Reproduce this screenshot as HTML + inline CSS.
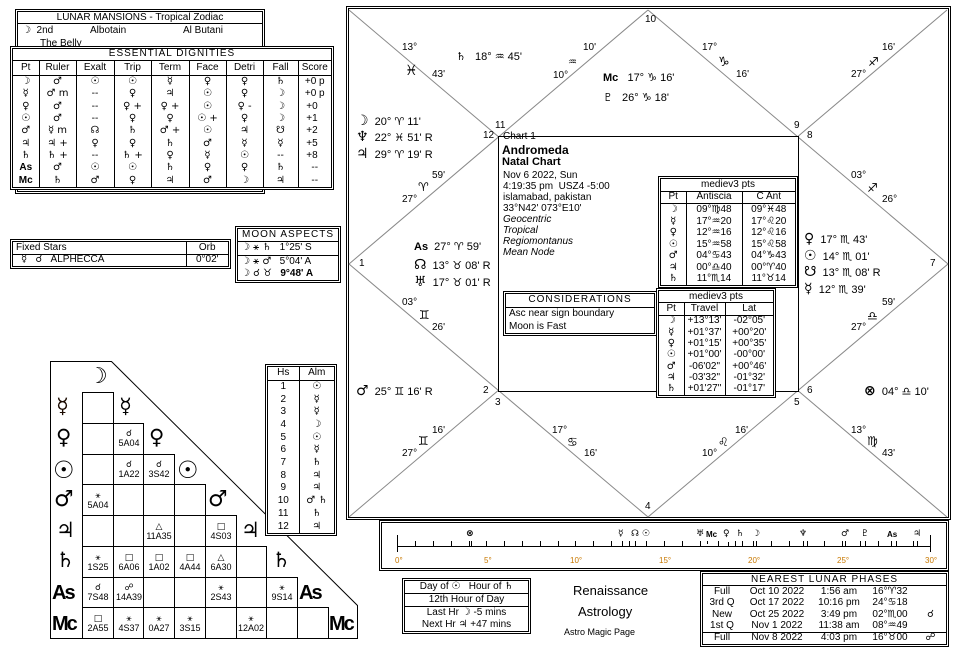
<!DOCTYPE html>
<html><head><meta charset="utf-8"><style>
*{margin:0;padding:0;box-sizing:border-box}
body{width:960px;height:657px;background:#fff;position:relative;overflow:hidden;font-family:"Liberation Sans","DejaVu Sans",sans-serif;font-size:10px;color:#000}
.a{position:absolute;white-space:nowrap;line-height:1}
.box{position:absolute;border:3px double #000;background:#fff}
table{border-collapse:collapse;width:100%}
td{text-align:center;font-size:10px;line-height:1;padding:0;border-left:1px solid #000;white-space:nowrap}
td:first-child{border-left:none}
.g{font-family:"DejaVu Sans",sans-serif}
.bl{border-bottom:1px solid #000}
.c9{font-size:11px}
</style></head><body>

<!-- Lunar mansions -->
<div class="box" style="left:15px;top:9px;width:250px;height:185px">
 <div class="a bl" style="left:0;top:0;width:244px;height:12px;text-align:center;font-size:10px;padding-top:1px">LUNAR MANSIONS - Tropical Zodiac</div>
 <div class="a" style="left:4px;top:14px"><span class="g">☽</span>&nbsp;&nbsp;2nd</div>
 <div class="a" style="left:72px;top:14px">Albotain</div>
 <div class="a" style="left:165px;top:14px">Al Butani</div>
 <div class="a" style="left:22px;top:27px">The Belly</div>
</div>

<!-- Essential dignities -->
<div class="box" style="left:10px;top:46px;width:324px;height:144px">
<table style="height:138px">
<tr class="bl" style="height:11px"><td colspan="9" style="letter-spacing:1px">ESSENTIAL DIGNITIES</td></tr>
<tr class="bl" style="height:15px"><td style="width:26px">Pt</td><td style="width:37px">Ruler</td><td style="width:38px">Exalt</td><td style="width:37px">Trip</td><td style="width:38px">Term</td><td style="width:37px">Face</td><td style="width:37px">Detri</td><td style="width:35px">Fall</td><td>Score</td></tr>
<tr><td class="g"><b>☽</b></td><td class="g">♂</td><td class="g">☉</td><td class="g">☉</td><td class="g">☿</td><td class="g">♀</td><td class="g">♀</td><td class="g">♄</td><td>+0 p</td></tr>
<tr><td class="g"><b>☿</b></td><td class="g">♂ m</td><td>--</td><td class="g">♀</td><td class="g">♃</td><td class="g">☉</td><td class="g">♀</td><td class="g">☽</td><td>+0 p</td></tr>
<tr><td class="g"><b>♀</b></td><td class="g">♂</td><td>--</td><td class="g">♀ +</td><td class="g">♀ +</td><td class="g">☉</td><td class="g">♀ -</td><td class="g">☽</td><td>+0&nbsp;&nbsp;</td></tr>
<tr><td class="g"><b>☉</b></td><td class="g">♂</td><td>--</td><td class="g">♀</td><td class="g">♀</td><td class="g">☉ +</td><td class="g">♀</td><td class="g">☽</td><td>+1&nbsp;&nbsp;</td></tr>
<tr><td class="g"><b>♂</b></td><td class="g">☿ m</td><td class="g">☊</td><td class="g">♄</td><td class="g">♂ +</td><td class="g">☉</td><td class="g">♃</td><td class="g">☋</td><td>+2&nbsp;&nbsp;</td></tr>
<tr><td class="g"><b>♃</b></td><td class="g">♃ +</td><td class="g">♀</td><td class="g">♀</td><td class="g">♄</td><td class="g">♂</td><td class="g">☿</td><td class="g">☿</td><td>+5&nbsp;&nbsp;</td></tr>
<tr><td class="g"><b>♄</b></td><td class="g">♄ +</td><td>--</td><td class="g">♄ +</td><td class="g">♀</td><td class="g">☿</td><td class="g">☉</td><td>--</td><td>+8&nbsp;&nbsp;</td></tr>
<tr><td><b>As</b></td><td class="g">♂</td><td class="g">☉</td><td class="g">☉</td><td class="g">♄</td><td class="g">♀</td><td class="g">♀</td><td class="g">♄</td><td>--</td></tr>
<tr><td><b>Mc</b></td><td class="g">♄</td><td class="g">♂</td><td class="g">♀</td><td class="g">♃</td><td class="g">♂</td><td class="g">☽</td><td class="g">♃</td><td>--</td></tr>
</table></div>

<!-- Fixed stars -->
<div class="box" style="left:10px;top:239px;width:221px;height:30px">
<table style="height:24px"><tr class="bl"><td style="text-align:left;padding-left:3px">Fixed Stars</td><td style="width:42px">Orb</td></tr>
<tr><td style="text-align:left;padding-left:8px"><span class="g">☿</span>&nbsp;&nbsp;&nbsp;<span class="g">☌</span>&nbsp;&nbsp;&nbsp;ALPHECCA</td><td>0°02'</td></tr></table></div>

<!-- Moon aspects -->
<div class="box" style="left:235px;top:226px;width:106px;height:57px">
<table style="height:51px"><tr class="bl"><td style="letter-spacing:1px">MOON ASPECTS</td></tr>
<tr class="bl"><td style="text-align:left;padding-left:3px"><span class="g">☽ ⚹ ♄</span>&nbsp;&nbsp;&nbsp;1°25' S</td></tr>
<tr><td style="text-align:left;padding-left:3px"><span class="g">☽ ⚹ ♂</span>&nbsp;&nbsp;&nbsp;5°04' A</td></tr>
<tr><td style="text-align:left;padding-left:3px"><span class="g">☽ ☌ ♉</span>&nbsp;&nbsp;&nbsp;<b>9°48' A</b></td></tr></table></div>

<!-- Aspect grid -->
<svg class="a" style="left:0;top:0" width="960" height="657">
<polygon points="50.5,361.5 111.5,361.5 357.5,605.5 357.5,638.5 50.5,638.5" fill="#fff" stroke="#000" stroke-width="1"/>
<g stroke="#000" stroke-width="1" fill="none">
<path d="M82.5,392v246M113.5,392v246M143.5,423v215M174.5,454v184M205.5,484v154M236.5,515v123M266.5,546v92M297.5,577v61M328.5,607v31"/>
<path d="M82,392.5h31M82,423.5h61M82,454.5h92M82,484.5h123M82,515.5h154M82,546.5h184M82,577.5h215M82,607.5h246"/>
</g>
<!-- main chart -->
<rect x="346.5" y="6.5" width="604" height="513" fill="none" stroke="#000"/>
<rect x="348.5" y="8.5" width="600" height="509" fill="none" stroke="#000"/>
<g stroke="#888" stroke-width="1">
<line x1="349" y1="10" x2="947" y2="517"/><line x1="947" y1="10" x2="349" y2="517"/>
<line x1="648" y1="10" x2="948" y2="264"/><line x1="948" y1="264" x2="648" y2="517"/>
<line x1="648" y1="517" x2="349" y2="264"/><line x1="349" y1="264" x2="648" y2="10"/>
</g>
<rect x="498.5" y="136.5" width="300" height="255" fill="#fff" stroke="#000"/>
</svg>

<div class="a g" style="left:88px;top:366px;font-size:22px;font-weight:bold">☽</div>
<div class="a g" style="left:56px;top:396px;font-size:21px;font-weight:bold;color:#1a0a00">☿</div>
<div class="a g" style="left:119px;top:396px;font-size:21px;font-weight:bold">☿</div>
<div class="a g" style="left:56px;top:427px;font-size:21px;font-weight:bold">♀</div>
<div class="a g" style="left:149px;top:427px;font-size:21px;font-weight:bold">♀</div>
<div class="a g" style="left:53px;top:458px;font-size:24px;font-weight:bold">☉</div>
<div class="a g" style="left:177px;top:458px;font-size:24px;font-weight:bold">☉</div>
<div class="a g" style="left:54px;top:489px;font-size:22px;font-weight:bold">♂</div>
<div class="a g" style="left:208px;top:489px;font-size:22px;font-weight:bold">♂</div>
<div class="a g" style="left:56px;top:520px;font-size:21px;font-weight:bold">♃</div>
<div class="a g" style="left:241px;top:520px;font-size:21px;font-weight:bold">♃</div>
<div class="a g" style="left:56px;top:550px;font-size:21px;font-weight:bold">♄</div>
<div class="a g" style="left:272px;top:550px;font-size:21px;font-weight:bold">♄</div>
<div class="a" style="left:52px;top:583px;font-size:20px;font-weight:bold;letter-spacing:-2px">As</div>
<div class="a" style="left:299px;top:583px;font-size:20px;font-weight:bold;letter-spacing:-2px">As</div>
<div class="a" style="left:52px;top:614px;font-size:20px;font-weight:bold;letter-spacing:-2px">Mc</div>
<div class="a" style="left:329px;top:614px;font-size:20px;font-weight:bold;letter-spacing:-2px">Mc</div>

<div style="position:absolute;left:0;top:0;font-size:9px">
<div class="a" style="left:114px;top:429px;width:30px;text-align:center"><span class="g">☌</span><br>5A04</div>
<div class="a" style="left:114px;top:460px;width:30px;text-align:center"><span class="g">☌</span><br>1A22</div>
<div class="a" style="left:144px;top:460px;width:30px;text-align:center"><span class="g">☌</span><br>3S42</div>
<div class="a" style="left:83px;top:491px;width:30px;text-align:center"><span class="g">⚹</span><br>5A04</div>
<div class="a" style="left:144px;top:522px;width:30px;text-align:center"><span class="g">△</span><br>11A35</div>
<div class="a" style="left:206px;top:522px;width:30px;text-align:center"><span class="g">□</span><br>4S03</div>
<div class="a" style="left:83px;top:553px;width:30px;text-align:center"><span class="g">⚹</span><br>1S25</div>
<div class="a" style="left:114px;top:553px;width:30px;text-align:center"><span class="g">□</span><br>6A06</div>
<div class="a" style="left:144px;top:553px;width:30px;text-align:center"><span class="g">□</span><br>1A02</div>
<div class="a" style="left:175px;top:553px;width:30px;text-align:center"><span class="g">□</span><br>4A44</div>
<div class="a" style="left:206px;top:553px;width:30px;text-align:center"><span class="g">△</span><br>6A30</div>
<div class="a" style="left:83px;top:583px;width:30px;text-align:center"><span class="g">☌</span><br>7S48</div>
<div class="a" style="left:114px;top:583px;width:30px;text-align:center"><span class="g">☍</span><br>14A39</div>
<div class="a" style="left:206px;top:583px;width:30px;text-align:center"><span class="g">⚹</span><br>2S43</div>
<div class="a" style="left:267px;top:583px;width:30px;text-align:center"><span class="g">⚹</span><br>9S14</div>
<div class="a" style="left:83px;top:614px;width:30px;text-align:center"><span class="g">□</span><br>2A55</div>
<div class="a" style="left:114px;top:614px;width:30px;text-align:center"><span class="g">⚹</span><br>4S37</div>
<div class="a" style="left:144px;top:614px;width:30px;text-align:center"><span class="g">⚹</span><br>0A27</div>
<div class="a" style="left:175px;top:614px;width:30px;text-align:center"><span class="g">⚹</span><br>3S15</div>
<div class="a" style="left:236px;top:614px;width:30px;text-align:center"><span class="g">⚹</span><br>12A02</div>
</div>

<!-- Hs Alm -->
<div class="box" style="left:265px;top:364px;width:72px;height:172px">
<table style="height:166px"><tr class="bl" style="height:13px"><td style="width:31px">Hs</td><td>Alm</td></tr>
<tr><td>1</td><td class="g">☉</td></tr><tr><td>2</td><td class="g">☿</td></tr><tr><td>3</td><td class="g">☿</td></tr><tr><td>4</td><td class="g">☽</td></tr><tr><td>5</td><td class="g">☉</td></tr><tr><td>6</td><td class="g">☿</td></tr><tr><td>7</td><td class="g">♄</td></tr><tr><td>8</td><td class="g">♃</td></tr><tr><td>9</td><td class="g">♃</td></tr><tr><td>10</td><td class="g">♂ ♄</td></tr><tr><td>11</td><td class="g">♄</td></tr><tr><td>12</td><td class="g">♃</td></tr></table></div>

<!-- chart texts -->
<div style="position:absolute;left:0;top:0;font-size:10px">
<div class="a" style="left:402px;top:43px">13°</div><div class="a g" style="left:405px;top:64px;font-size:14px">♓</div><div class="a" style="left:432px;top:70px">43'</div>
<div class="a c9" style="left:456px;top:51px"><span class="g" style="font-weight:bold">♄</span>&nbsp;&nbsp; 18° <span class="g">♒</span> 45'</div>
<div class="a" style="left:583px;top:43px">10'</div><div class="a g" style="left:568px;top:58px">♒</div><div class="a" style="left:553px;top:71px">10°</div>
<div class="a" style="left:645px;top:15px">10</div>
<div class="a c9" style="left:603px;top:72px"><b>Mc</b>&nbsp;&nbsp; 17° <span class="g">♑</span> 16'</div>
<div class="a c9" style="left:603px;top:92px"><span class="g" style="font-weight:bold">♇</span>&nbsp;&nbsp; 26° <span class="g">♑</span> 18'</div>
<div class="a" style="left:702px;top:43px">17°</div><div class="a g" style="left:718px;top:56px;font-size:13px">♑</div><div class="a" style="left:736px;top:70px">16'</div>
<div class="a" style="left:882px;top:43px">16'</div><div class="a g" style="left:868px;top:56px;font-size:12px">♐</div><div class="a" style="left:851px;top:70px">27°</div>
<div class="a" style="left:794px;top:121px">9</div><div class="a" style="left:807px;top:131px">8</div>
<div class="a" style="left:495px;top:121px">11</div><div class="a" style="left:483px;top:131px">12</div>
<div class="a c9" style="left:356px;top:114px"><b class="g" style="font-size:14px">☽</b>&nbsp; 20° <span class="g">♈</span> 11'</div>
<div class="a c9" style="left:356px;top:130px"><b class="g" style="font-size:14px">♆</b>&nbsp; 22° <span class="g">♓</span> 51' R</div>
<div class="a c9" style="left:356px;top:147px"><b class="g" style="font-size:14px">♃</b>&nbsp; 29° <span class="g">♈</span> 19' R</div>
<div class="a" style="left:432px;top:171px">59'</div><div class="a g" style="left:418px;top:181px;font-size:12px">♈</div><div class="a" style="left:402px;top:195px">27°</div>
<div class="a" style="left:851px;top:171px">03°</div><div class="a g" style="left:867px;top:182px;font-size:12px">♐</div><div class="a" style="left:882px;top:195px">26°</div>
<div class="a c9" style="left:804px;top:232px"><b class="g" style="font-size:14px">♀</b>&nbsp; 17° <span class="g">♏</span> 43'</div>
<div class="a c9" style="left:804px;top:249px"><b class="g" style="font-size:14px">☉</b>&nbsp; 14° <span class="g">♏</span> 01'</div>
<div class="a c9" style="left:804px;top:265px"><b class="g" style="font-size:14px">☋</b>&nbsp; 13° <span class="g">♏</span> 08' R</div>
<div class="a c9" style="left:804px;top:282px"><b class="g" style="font-size:14px">☿</b>&nbsp; 12° <span class="g">♏</span> 39'</div>
<div class="a" style="left:930px;top:259px">7</div><div class="a" style="left:359px;top:259px">1</div>
<div class="a c9" style="left:414px;top:241px"><b>As</b>&nbsp; 27° <span class="g">♈</span> 59'</div>
<div class="a c9" style="left:414px;top:258px"><b class="g" style="font-size:14px">☊</b>&nbsp; 13° <span class="g">♉</span> 08' R</div>
<div class="a c9" style="left:414px;top:275px"><b class="g" style="font-size:14px">♅</b>&nbsp; 17° <span class="g">♉</span> 01' R</div>
<div class="a" style="left:402px;top:298px">03°</div><div class="a g" style="left:419px;top:309px;font-size:12px">♊</div><div class="a" style="left:432px;top:323px">26'</div>
<div class="a" style="left:882px;top:298px">59'</div><div class="a g" style="left:867px;top:310px;font-size:12px">♎</div><div class="a" style="left:851px;top:323px">27°</div>
<div class="a c9" style="left:356px;top:384px"><b class="g" style="font-size:14px">♂</b>&nbsp; 25° <span class="g">♊</span> 16' R</div>
<div class="a" style="left:483px;top:386px">2</div><div class="a" style="left:495px;top:398px">3</div>
<div class="a" style="left:794px;top:398px">5</div><div class="a" style="left:807px;top:386px">6</div>
<div class="a c9" style="left:864px;top:384px"><b class="g" style="font-size:14px">⊗</b>&nbsp; 04° <span class="g">♎</span> 10'</div>
<div class="a" style="left:432px;top:426px">16'</div><div class="a g" style="left:418px;top:435px;font-size:12px">♊</div><div class="a" style="left:402px;top:449px">27°</div>
<div class="a" style="left:552px;top:426px">17°</div><div class="a g" style="left:567px;top:436px;font-size:12px">♋</div><div class="a" style="left:584px;top:449px">16'</div>
<div class="a" style="left:645px;top:502px">4</div>
<div class="a" style="left:702px;top:449px">10°</div><div class="a g" style="left:718px;top:436px;font-size:12px">♌</div><div class="a" style="left:735px;top:426px">16'</div>
<div class="a" style="left:851px;top:426px">13°</div><div class="a g" style="left:867px;top:435px;font-size:12px">♍</div><div class="a" style="left:882px;top:449px">43'</div>
</div>

<!-- inner info -->
<div class="a" style="left:503px;top:132px;font-size:10px">Chart 1</div>
<div class="a" style="left:502px;top:144px;font-size:12px;font-weight:bold">Andromeda</div>
<div class="a" style="left:502px;top:157px;font-size:11px;font-weight:bold">Natal Chart</div>
<div class="a" style="left:503px;top:170px;line-height:11px">Nov 6 2022, Sun<br>4:19:35 pm&nbsp; USZ4 -5:00<br>islamabad, pakistan<br>33°N42' 073°E10'<br><i>Geocentric<br>Tropical<br>Regiomontanus<br>Mean Node</i></div>

<div class="box" style="left:658px;top:176px;width:140px;height:112px">
<table style="height:106px"><tr class="bl"><td colspan="3">mediev3 pts</td></tr>
<tr class="bl"><td style="width:25px">Pt</td><td style="width:56px">Antiscia</td><td>C Ant</td></tr>
<tr><td class="g"><b>☽</b></td><td>09°<span class="g">♍</span>48</td><td>09°<span class="g">♓</span>48</td></tr>
<tr><td class="g"><b>☿</b></td><td>17°<span class="g">♒</span>20</td><td>17°<span class="g">♌</span>20</td></tr>
<tr><td class="g"><b>♀</b></td><td>12°<span class="g">♒</span>16</td><td>12°<span class="g">♌</span>16</td></tr>
<tr><td class="g"><b>☉</b></td><td>15°<span class="g">♒</span>58</td><td>15°<span class="g">♌</span>58</td></tr>
<tr><td class="g"><b>♂</b></td><td>04°<span class="g">♋</span>43</td><td>04°<span class="g">♑</span>43</td></tr>
<tr><td class="g"><b>♃</b></td><td>00°<span class="g">♎</span>40</td><td>00°<span class="g">♈</span>40</td></tr>
<tr><td class="g"><b>♄</b></td><td>11°<span class="g">♏</span>14</td><td>11°<span class="g">♉</span>14</td></tr></table></div>

<div class="box" style="left:503px;top:291px;width:154px;height:45px">
<table style="height:39px"><tr class="bl"><td style="letter-spacing:1px">CONSIDERATIONS</td></tr>
<tr><td style="text-align:left;padding-left:3px">Asc near sign boundary</td></tr>
<tr><td style="text-align:left;padding-left:3px">Moon is Fast</td></tr></table></div>

<div class="box" style="left:656px;top:288px;width:120px;height:110px">
<table style="height:104px"><tr class="bl"><td colspan="3">mediev3 pts</td></tr>
<tr class="bl"><td style="width:25px">Pt</td><td style="width:41px">Travel</td><td>Lat</td></tr>
<tr><td class="g"><b>☽</b></td><td>+13°13'</td><td>-02°05'</td></tr>
<tr><td class="g"><b>☿</b></td><td>+01°37'</td><td>+00°20'</td></tr>
<tr><td class="g"><b>♀</b></td><td>+01°15'</td><td>+00°35'</td></tr>
<tr><td class="g"><b>☉</b></td><td>+01°00'</td><td>-00°00'</td></tr>
<tr><td class="g"><b>♂</b></td><td>-06'02"</td><td>+00°46'</td></tr>
<tr><td class="g"><b>♃</b></td><td>-03'32"</td><td>-01°32'</td></tr>
<tr><td class="g"><b>♄</b></td><td>+01'27"</td><td>-01°17'</td></tr></table></div>

<!-- timeline -->
<div class="box" style="left:379px;top:520px;width:570px;height:51px"></div>
<svg class="a" style="left:0;top:0" width="960" height="657">
<g stroke="#000" stroke-width="1">
<line x1="397" y1="546.5" x2="931" y2="546.5"/>
<line x1="397.5" y1="535" x2="397.5" y2="552"/><line x1="930.5" y1="535" x2="930.5" y2="552"/>
<path d="M415.5,541v5M433.5,541v5M451.5,541v5M469.5,541v5M486.5,541v5M504.5,541v5M522.5,541v5M540.5,541v5M558.5,541v5M575.5,541v5M593.5,541v5M611.5,541v5M629.5,541v5M646.5,541v5M664.5,541v5M682.5,541v5M700.5,541v5M718.5,541v5M735.5,541v5M753.5,541v5M771.5,541v5M789.5,541v5M807.5,541v5M824.5,541v5M842.5,541v5M860.5,541v5M878.5,541v5M896.5,541v5M913.5,541v5"/>
<path d="M471.5,541v5M622.5,541v5M635.5,541v5M646.5,541v5M700.5,541v5M707.5,541v3M728.5,542v4M742.5,541v5M756.5,541v5M803.5,541v5M845.5,541v5M865.5,541v5M891.5,541v5M917.5,541v5"/>
</g>
</svg>
<div style="position:absolute;left:0;top:0;font-size:9px;font-weight:bold">
<div class="a g" style="left:466px;top:530px">⊗</div><div class="a g" style="left:618px;top:530px">☿</div><div class="a g" style="left:631px;top:530px">☊</div><div class="a g" style="left:642px;top:530px">☉</div><div class="a g" style="left:696px;top:530px">♅</div><div class="a" style="left:706px;top:531px;font-size:8px">Mc</div><div class="a g" style="left:723px;top:530px">♀</div><div class="a g" style="left:736px;top:530px">♄</div><div class="a g" style="left:752px;top:530px">☽</div><div class="a g" style="left:799px;top:530px">♆</div><div class="a g" style="left:841px;top:530px">♂</div><div class="a g" style="left:861px;top:530px">♇</div><div class="a" style="left:887px;top:531px;font-size:8px">As</div><div class="a g" style="left:913px;top:530px">♃</div>
</div>
<div style="position:absolute;left:0;top:0;font-size:8px;color:#c87800">
<div class="a" style="left:395px;top:557px">0°</div><div class="a" style="left:484px;top:557px">5°</div><div class="a" style="left:570px;top:557px">10°</div><div class="a" style="left:659px;top:557px">15°</div><div class="a" style="left:748px;top:557px">20°</div><div class="a" style="left:837px;top:557px">25°</div><div class="a" style="left:925px;top:557px">30°</div>
</div>

<!-- day/hour -->
<div class="box" style="left:402px;top:578px;width:129px;height:56px">
<table style="height:50px"><tr class="bl"><td>Day of <span class="g">☉</span>&nbsp;&nbsp; Hour of <span class="g">♄</span></td></tr>
<tr class="bl"><td>12th Hour of Day</td></tr>
<tr><td>Last Hr <span class="g">☽</span> -5 mins</td></tr>
<tr><td>Next Hr <span class="g">♃</span> +47 mins</td></tr></table></div>
<div class="a" style="left:573px;top:584px;font-size:13px">Renaissance</div>
<div class="a" style="left:578px;top:605px;font-size:13px">Astrology</div>
<div class="a" style="left:564px;top:628px;font-size:9px">Astro Magic Page</div>

<!-- lunar phases -->
<div class="box" style="left:700px;top:571px;width:249px;height:76px">
<table style="height:70px"><tr class="bl"><td colspan="5" style="letter-spacing:1px">NEAREST LUNAR PHASES</td></tr>
<tr><td style="border:none;width:38px">Full</td><td style="border:none;width:72px">Oct 10 2022</td><td style="border:none;width:52px">1:56 am</td><td style="border:none;width:50px">16°<span class="g">♈</span>32</td><td style="border:none"></td></tr>
<tr><td style="border:none">3rd Q</td><td style="border:none">Oct 17 2022</td><td style="border:none">10:16 pm</td><td style="border:none">24°<span class="g">♋</span>18</td><td style="border:none"></td></tr>
<tr><td style="border:none">New</td><td style="border:none">Oct 25 2022</td><td style="border:none">3:49 pm</td><td style="border:none">02°<span class="g">♏</span>00</td><td style="border:none" class="g">☌</td></tr>
<tr class="bl"><td style="border:none">1st Q</td><td style="border:none">Nov 1 2022</td><td style="border:none">11:38 am</td><td style="border:none">08°<span class="g">♒</span>49</td><td style="border:none"></td></tr>
<tr><td style="border:none">Full</td><td style="border:none">Nov 8 2022</td><td style="border:none">4:03 pm</td><td style="border:none">16°<span class="g">♉</span>00</td><td style="border:none" class="g">☍</td></tr></table></div>
</body></html>
